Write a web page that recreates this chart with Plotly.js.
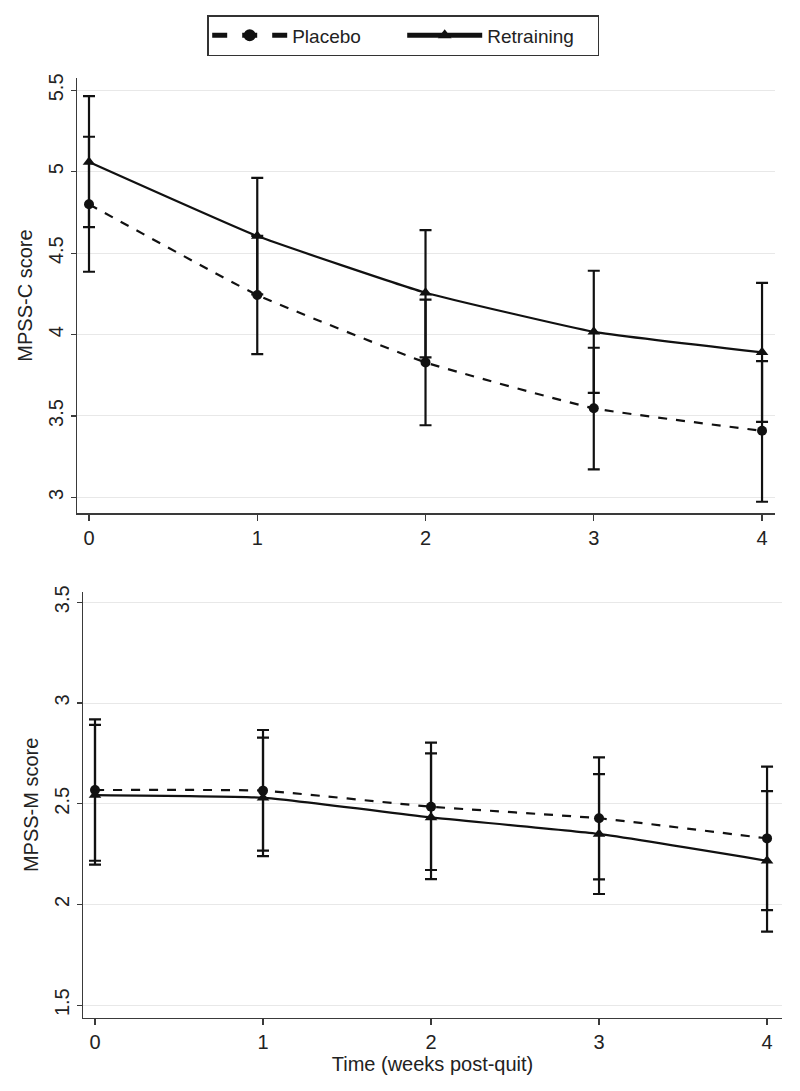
<!DOCTYPE html>
<html>
<head>
<meta charset="utf-8">
<script src="https://cdn.plot.ly/plotly-3.0.1.min.js"></script>
<style>html,body{margin:0;padding:0;background:#fff;}#chart{width:800px;height:1091px;}</style>
</head>
<body>
<div id="chart"></div>
<script>
// Weeks post-quit
const weeks = [0, 1, 2, 3, 4];
const seriesNames = ["Placebo", "Retraining"];

// MPSS-C score (top panel)
const cPlaceboMean  = [4.80, 4.243, 3.829, 3.547, 3.409];
const cPlaceboLow   = [4.386, 3.880, 3.443, 3.172, 2.973];
const cPlaceboHigh  = [5.215, 4.606, 4.215, 3.919, 3.837];
const cRetrainMean  = [5.06, 4.605, 4.257, 4.017, 3.891];
const cRetrainLow   = [4.660, 4.247, 3.860, 3.642, 3.464];
const cRetrainHigh  = [5.465, 4.963, 4.642, 4.392, 4.318];

// MPSS-M score (bottom panel)
const mPlaceboMean  = [2.568, 2.565, 2.485, 2.428, 2.328];
const mPlaceboLow   = [2.217, 2.267, 2.171, 2.125, 1.972];
const mPlaceboHigh  = [2.919, 2.866, 2.803, 2.730, 2.684];
const mRetrainMean  = [2.543, 2.530, 2.432, 2.350, 2.217];
const mRetrainLow   = [2.198, 2.240, 2.126, 2.052, 1.865];
const mRetrainHigh  = [2.891, 2.828, 2.750, 2.647, 2.563];

const topTicks = [3, 3.5, 4, 4.5, 5, 5.5];
const topTickText = ["3", "3.5", "4", "4.5", "5", "5.5"];
const botTicks = [1.5, 2, 2.5, 3, 3.5];
const botTickText = ["1.5", "2", "2.5", "3", "3.5"];

const FONT = "Liberation Sans, Arial, sans-serif";
const INK = "#111";

function mk(name, mean, low, high, xa, ya, dash, symbol, showLegend) {
  return {
    type: "scatter", mode: "lines+markers", name: name,
    x: weeks, y: mean, xaxis: xa, yaxis: ya,
    showlegend: showLegend, legendgroup: name,
    line: {color: INK, width: 2.2, dash: dash, shape: "spline", smoothing: 0.35},
    marker: {color: INK, size: symbol === "circle" ? 10 : 11, symbol: symbol},
    error_y: {
      type: "data", symmetric: false,
      array: high.map((h, i) => h - mean[i]),
      arrayminus: mean.map((m, i) => m - low[i]),
      color: INK, thickness: 2.2, width: 6
    }
  };
}

const data = [
  mk(seriesNames[0], cPlaceboMean, cPlaceboLow, cPlaceboHigh, "x", "y", "dash", "circle", true),
  mk(seriesNames[1], cRetrainMean, cRetrainLow, cRetrainHigh, "x", "y", "solid", "triangle-up", true),
  mk(seriesNames[0], mPlaceboMean, mPlaceboLow, mPlaceboHigh, "x2", "y2", "dash", "circle", false),
  mk(seriesNames[1], mRetrainMean, mRetrainLow, mRetrainHigh, "x2", "y2", "solid", "triangle-up", false)
];

const H = 1091, W = 800;
const axisCommon = {
  showline: true, linecolor: "#3a3a3a", linewidth: 1.5,
  ticks: "outside", ticklen: 6, tickwidth: 1.3, tickcolor: "#3a3a3a",
  zeroline: false, tickfont: {family: FONT, size: 20, color: "#222"}
};

const layout = {
  width: W, height: H,
  margin: {l: 0, r: 0, t: 0, b: 0},
  paper_bgcolor: "#fff", plot_bgcolor: "#fff",
  font: {family: FONT, color: "#222"},
  showlegend: true,
  legend: {
    orientation: "h", x: 0.504, xanchor: "center", y: 1 - 15 / H, yanchor: "top",
    bordercolor: "#333", borderwidth: 1.5, bgcolor: "#fff",
    font: {family: FONT, size: 19, color: "#222"},
    itemwidth: 75, entrywidth: 105, entrywidthmode: "pixels", itemsizing: "constant"
  },
  xaxis: Object.assign({}, axisCommon, {
    domain: [77 / W, 775 / W], range: [-0.0713, 4.077],
    tickvals: weeks, ticktext: weeks.map(String), showgrid: false, anchor: "y"
  }),
  yaxis: Object.assign({}, axisCommon, {
    domain: [1 - 513 / H, 1 - 78 / H], range: [2.904, 5.576],
    tickvals: topTicks, ticktext: topTickText, tickangle: -90,
    showgrid: true, gridcolor: "#e8e8e8", gridwidth: 1, anchor: "x", ticklen: 5,
    title: {text: "MPSS-C score", font: {family: FONT, size: 20, color: "#222"}, standoff: 6}
  }),
  xaxis2: Object.assign({}, axisCommon, {
    domain: [83 / W, 782 / W], range: [-0.0714, 4.089],
    tickvals: weeks, ticktext: weeks.map(String), showgrid: false, anchor: "y2",
    title: {text: "Time (weeks post-quit)", font: {family: FONT, size: 20, color: "#222"}, standoff: 4}
  }),
  yaxis2: Object.assign({}, axisCommon, {
    domain: [1 - 1017.7 / H, 1 - 592 / H], range: [1.438, 3.551],
    tickvals: botTicks, ticktext: botTickText, tickangle: -90,
    showgrid: true, gridcolor: "#e8e8e8", gridwidth: 1, anchor: "x2", ticklen: 5,
    title: {text: "MPSS-M score", font: {family: FONT, size: 20, color: "#222"}, standoff: 6}
  })
};

Plotly.newPlot("chart", data, layout, {staticPlot: true, displayModeBar: false});
</script>
</body>
</html>
